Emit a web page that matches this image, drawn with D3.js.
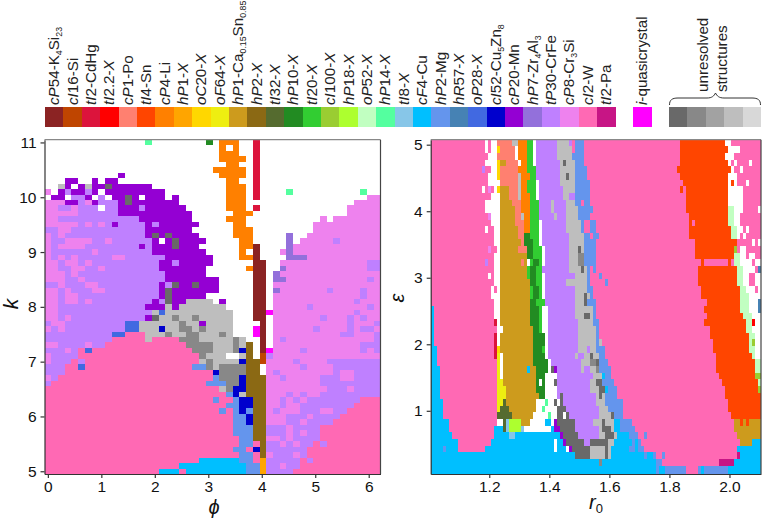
<!DOCTYPE html>
<html>
<head>
<meta charset="utf-8">
<script src="https://cdn.jsdelivr.net/npm/d3@7"></script>
<style>
	html, body { margin:0; padding:0; background:#fff; }
	svg { display:block; }
	text { font-family:"Liberation Sans", Helvetica, Arial, sans-serif; fill:#111; }
	.axis text { font-size:15.5px; }
	.axis path, .axis line { stroke:#333; stroke-width:1.2; }
	.legend-label { font-size:15.2px; fill:#222; }
	.axis-title { font-style:italic; font-size:21px; }
</style>
</head>
<body>
<svg width="762" height="518"></svg>
<script>
(function() {

	// VARS
	// *italic*, _subscript_
	var structureLabels = ['*cP*54-K_4_Si_23_','*cI*16-Si','*tI*2-CdHg','*tI*2.2-*X*','*cP*1-Po','*tI*4-Sn','*cP*4-Li','*hP*1-*X*','*oC*20-*X*','*oF*64-*X*','*hP*1-Ca_0.15_Sn_0.85_','*hP*2-*X*','*tI*32-*X*','*hP*10-*X*','*tI*20-*X*','*cI*100-*X*','*hP*18-*X*','*oP*52-*X*','*hP*14-*X*','*tI*8-*X*','*cF*4-Cu','*hP*2-Mg','*hR*57-*X*','*oP*28-*X*','*cI*52-Cu_5_Zn_8_','*cP*20-Mn','*hP*7-Zr_4_Al_3_','*tP*30-CrFe','*cP*8-Cr_3_Si','*cI*2-W','*tI*2-Pa']
	var structureCodes = 'abcdefghijklmnopqrstuvwxyzABCDE'.split('')
	var structureColors = ['#8B2323','#BF4500','#DC143C','#FF0000','#FF8070','#FF4500','#FF8000','#FFA500','#FFD700','#EEEE11','#CD9B1D','#8B6914','#556B2F','#228B22','#32CD32','#9ACD32','#ADFF2F','#C1FFC1','#54FF9F','#87C6E8','#00BFFF','#6495ED','#4682B4','#4169E1','#0000CD','#9400D3','#9370DB','#BF80FF','#EE82EE','#FF69B4','#C71585']
	var quasiLabel = '*i*-quasicrystal'
	var quasiCode = 'F'
	var quasiColor = '#FF00FF'
	var unresolvedCodes = ['G','H','J','I','K']
	var unresolvedColors = ['#696969','#888888','#A2A2A2','#BEBEBE','#D8D8D8']

	var kTicks = [5,6,7,8,9,10,11]
	var phiTicks = [0,1,2,3,4,5,6]
	var epsTicks = [1,2,3,4,5]
	var r0Ticks = [1.2,1.4,1.6,1.8,2.0]

	// k = 11.0 down to 5.0, "code startColumn" runs, phi column = i * 2pi / 50
	var kPhiRows = [
		'.0 s15 .16 n24 .25 g26 .29 c31 .32',
		'.0 g26 .27 g28 .29 c31 .32',
		'.0 g26 .29 c31 .32',
		'.0 g26 .30 c31 .32',
		'.0 g27 .29 c31 .32',
		'.0 g25 .30 c31 .32',
		'.0 z11 .12 g26 .30 c31 .32',
		'.0 z3 .5 z7 .8 z9 .11 g27 .29 c31 .32',
		'.0 I2 z3 .4 z5 I6 z7 G9 z10 .16 g27 .30 c31 .32',
		'C0 .1 z2 B3 z4 B6 z7 .8 z9 .18 g27 .30 c31 .32 s36 .37 s47 .48',
		'.0 z1 .3 B4 z6 .7 B8 .9 z10 G12 z13 .14 z15 .18 z19 .20 g27 .30 c31 .32 C48',
		'C0 z3 B5 C6 z7 B8 z11 G12 z13 .20 g27 .30 C46',
		'C0 B2 C4 B5 .8 B9 z11 B14 z15 .21 g27 .30 c31 .32 C45',
		'C0 B5 z11 .22 g28 .31 C45',
		'C0 B2 z14 .22 g27 .30 C41 .42 C43',
		'C0 B5 C6 B7 C8 B9 z10 B11 z15 B16 z17 .23 g28 .30 C40',
		'B0 C2 B4 z15 .22 g28 .31 C40',
		'C0 B1 C2 B3 z15 G16 z17 G18 z19 .23 g28 .31 A36 .37 C39',
		'C0 B1 C3 B7 C9 B10 z16 .17 z18 G19 z20 .24 g29 .31 A36 .37 C38 B43 C44',
		'C0 B1 C2 B6 z14 B15 z16 G19 z20 .23 g29 a31 .32 A36 C37',
		'C0 B1 C7 B8 z16 .24 g29 .30 a31 .32 C35 A36 C37',
		'C0 B1 C2 B3 C4 B5 C10 B12 z18 .25 g29 a31 .32 A36 C39',
		'C0 B2 C3 B5 C6 B7 z17 B19 z20 .25 a31 .33 C35 B48',
		'C0 B2 C4 B6 C8 B9 z17 .24 g30 a31 .33 A35 C36 B48',
		'C0 B3 C4 B5 z18 .24 a31 .33 A34 C35',
		'C0 B3 C5 B6 z18 .26 a31 .33 A34 C36 B48 C49',
		'B0 C2 B3 C6 B8 z17 B18 G19 z20 G22 z23 .26 a31 .33 C34',
		'C0 B2 C3 B4 C7 B9 z17 G18 z19 .26 a31 .33 A34 C35 B42 C43 B47 C48',
		'C0 B2 C3 B5 z17 G18 z19 .24 a31 .33 C34 B47 C48',
		'C0 B2 C3 B5 C6 B7 z16 B17 G18 z19 I21 .25 z26 .27 a31 .33 C34 B46 C47',
		'C0 B2 z15 I18 z19 I20 .27 a31 .33 C34 B39 C40 B48 C49',
		'C0 B2 I16 x17 I18 .28 a31 F33 C34 B46 C47',
		'C0 B2 C3 B4 z15 G16 I17 H19 I20 H22 I23 .28 a31 .33 C34 B41 C42 B45 C46 B47 C48',
		'B0 C1 B3 x12 I14 H20 I21 z23 I24 .28 a32 .33 C34 B45 C46 B49',
		'C0 B1 C2 B3 x12 I14 y17 I18 H20 I22 H23 I24 .28 F31 a32 .33 C34 B40 C41 B45 C46 B47 C49',
		'B0 x10 D12 I15 H18 I19 H21 I23 H26 I27 .28 F31 a32 .33 C34 B44 C46 B49',
		'B0 D10 I15 D16 H20 I23 H28 I29 .30 a32 .33 C34 B35 C36 B49',
		'C0 B2 C6 B7 D9 H21 I25 H28 I29 l30 .31 a32 .33 C34 B47',
		'B0 C3 B4 D5 x6 D7 H22 I25 H28 y29 l30 .31 a32 F33 C34 B38 C39 B47 C48 B49',
		'C0 B1 D5 H23 I24 .27 I29 l30 .31 b32 B33 C34',
		'C0 B1 D4 B5 D6 I23 H24 I25 y29 l30 b32 C33 B37 C38 B42',
		'B0 D3 x5 D6 v22 H24 I25 H26 l30 .32 C33 B38 C39 B43',
		'B0 D3 y25 H26 l30 .32 C33 B34 C35 B43 C44 B46',
		'C0 B1 D2 v25 H26 y29 l30 C33 B35 C36 B41 C44 B46',
		'B0 D1 v24 H27 y29 l30 C33 B41',
		'D0 I26 H27 y28 l30 C33 B42 C45 B46',
		'D0 v27 y28 I29 l30 C33 B36 C37 B38 C39 B41',
		'D0 v25 D26 v28 y29 l31 C33 B35 C36 B37 C38 B39 D47',
		'D0 v27 y29 l31 C33 B35 C36 B38 D46',
		'D0 v26 D27 v28 y29 v30 l31 C33 B34 C35 B38 C41 B43 D45',
		'D0 v28 y30 l31 C33 B36 C39 B40 D44',
		'D0 v28 y30 l31 C33 B36 C38 B39 D43',
		'D0 v28 l31 B33 C36 B37 D41',
		'D0 v28 l31 B33 C36 B37 C38 B39 D41',
		'D0 v29 l31 C33 B35 C36 B37 D41',
		'D0 v29 D31 l32 B33 C35 B36 C37 B38 D40 B41 D42',
		'D0 v28 D30 y31 l32 B33 D39',
		'D0 v29 D31 l32 C33 B34 C37 B38 D39',
		'D0 u23 v29 D31 h32 B33 D38 B39 D40',
		'D0 u20 v30 h32 B33 C35 B36 D38',
		'D0 u17 D20 u21 v30 h32 B33 D37'
	]

	// epsilon = 5.025 downward in steps of 0.1, r0 column = 1.01 + i * 0.01
	var epsR0Rows = [
		'D0 .18 D19 .20 e22 I27 g29 o32 .34 B35 I42 B46 D47 v48 D51 f83 .98 D100',
		'D0 .18 D19 .20 i22 e23 .28 g29 o32 .34 B35 I42 D47 v48 D51 f83 .99 D103',
		'D0 .19 e22 .28 g29 o32 .34 B35 I42 v47 D51 f83 .98 D101',
		'D0 .18 i22 k23 e25 .29 g30 o32 .34 B35 I43 G44 I45 v48 D51 f83 .99 D100 .101 D102 .106 D107',
		'D0 B17 D18 .20 i22 e23 g29 o32 B35 I43 v48 D52 f82 .100 D101 .103 D104',
		'D0 .19 i22 e23 I29 g30 o33 B35 I43 G45 I46 v48 D52 f83 .99 D102',
		'D0 .19 e23 I29 g30 o32 .35 B36 I43 v48 D53 f84 .99 f100 .101 D102 .105 D106',
		'D0 .17 D18 C19 D20 .21 i22 k23 e26 I29 g30 o32 .35 B36 I44 v48 D53 f83 D84 f85 .99 D104',
		'D0 .20 k23 e26 I29 g30 o33 .35 B36 I44 B46 v48 D53 f85 .99 D104',
		'D0 .18 k23 e27 g30 o33 B36 I40 B41 I45 v48 D50 v51 D53 f85 .99 D104',
		'D0 .18 k23 e28 g30 o33 B36 I40 B41 I45 v49 D53 v53 D54 f85 r99 .101 D104 .109',
		'D0 C19 .20 k23 e28 I30 g31 o33 B36 I41 B42 I45 v49 D53 f86 r99 .101 D103',
		'D0 .20 k23 e28 g31 o33 .36 B37 I45 v50 D51 v53 D55 f86 D87 f88 r99 .101 D103',
		'D0 .18 D19 .21 k23 e29 g31 o33 .36 B37 I45 v50 D51 v53 D55 f86 r100 .102 D104 .105 D106',
		'D0 .21 k23 e29 n31 o33 .36 B37 I46 v51 D53 v54 D56 f86 r100 .102 D103 .104 D105',
		'D0 .21 k23 e30 n31 o34 .36 B37 I46 v51 v53 D55 f88 D102 .107 D108 .109',
		'D0 C19 D20 .22 k23 e29 n32 o34 .37 B38 I46 G49 I50 v51 D55 f88 p101 D102 .103 D105',
		'D0 .21 k23 n32 o34 .37 B38 I46 H49 v51 D55 f88 r101 .103 D105 .106 D108',
		'D0 B18 D19 .21 k23 e30 k31 .32 o33 n34 o36 .37 B38 I46 H49 v51 D55 f90 D91 f99 D100 r101 .103 D107 .108',
		'D0 .21 k23 o32 n33 o35 B37 I46 G50 I51 v52 D53 v54 D55 f89 r102 .104 D108 w109',
		'D0 .19 D20 .21 k23 o32 n33 o35 .37 B38 I48 v52 D53 v56 D57 f89 r102 .104 D106 .108',
		'D0 .21 k23 n33 o35 .37 B38 I45 v52 D53 v58 D59 f89 r102 .104 D106 .108',
		'D0 .20 D21 .22 k23 o33 n34 o36 .37 B38 I48 v52 v53 D54 f90 r103 .105 D108 .109',
		'D0 .20 k23 o33 n34 o36 .37 B38 I48 G51 I52 v53 D54 f90 r103 .106',
		'D0 .21 k23 n33 o35 B38 I48 G51 v52 D55 f92 r103 .106 w109 .110',
		'u0 D1 .21 k23 n33 o36 .37 B39 I48 v54 D55 f91 r103 .106 w109 .110',
		'u0 D1 .21 k23 n33 o36 .37 B39 I48 G51 I53 v54 D55 f92 r104 .107',
		'u0 D1 c21 .22 k23 n33 o36 .37 B39 I49 v54 D56 f91 r105 .107 d107 .108',
		'u0 D1 .22 k24 n34 o36 .37 B39 I49 v55 D56 f93 r105 .107',
		'u0 D1 c21 .22 k23 n34 .38 B39 I49 v55 D56 f93 r106 .108',
		'u0 D1 c21 .22 k23 n34 .38 B39 I49 v55 I56 D57 f94 r106 p107 .108',
		'u0 D2 c21 i22 k23 n34 o37 .38 B39 I49 B52 I53 v55 D58 f94 r106 .108',
		'u0 D2 c21 j22 .23 k24 n34 .38 B39 I48 B49 I51 G53 I54 v56 D58 f95 r107 .108',
		'u0 D2 j22 .23 k24 n34 .39 B40 I50 H53 G55 v56 D59 f95 r108',
		'u0 D3 j22 .23 k24 u32 k33 n35 .39 G40 z41 B42 I50 B51 I53 H55 v56 D60 f95 r108',
		'u0 D3 j22 .23 k24 n35 .38 B42 I54 u57 v58 D60 f96 p108',
		'u0 D3 j22 k24 n35 .36 n37 .38 G41 B42 I53 G55 v57 D61 f97 r109',
		'u0 D3 j22 k25 n35 .38 B42 I53 G56 u58 v59 D62 f98 p109',
		'u0 D3 j22 k25 n36 .38 B42 G43 B44 I55 G56 I57 v58 D62 f98',
		'u0 D4 j22 m24 k25 .35 s38 .39 G41 .42 G43 B44 I55 v58 D64 f99',
		'u0 D4 j22 m23 k26 .35 s37 .38 G42 B45 I56 v59 D64 f99',
		'u0 D4 m22 k27 .34 s39 .40 G42 .44 G45 B46 I56 G60 v61 D64 f100',
		'u0 D6 .22 m24 t25 q26 k30 .33 u38 .40 z41 G42 B48 I54 G57 I58 u61 v63 D67 k101 f103 k104 f105 k106',
		'u0 D6 u21 m24 t25 q26 t30 .31 u40 z41 G43 B48 I56 G57 I60 u61 v63 D68 k101',
		'u0 D7 u21 t26 u28 z43 G44 B49 I56 G58 I61 u62 v66 D69 v71 D72 k102',
		'u0 D9 u20 .41 u42 z44 G45 B51 G53 I59 u61 v67 u68 v69 D70 k103 u107',
		'u0 v4 u5 D9 u18 .41 u42 .45 z46 G47 I53 G58 I59 u60 v66 u68 v69 D71 u102',
		'u0 G48 I53 G58 I59 u60 v71 u72 v74 D75 v77 D78 E102 u103',
		'u0 H56 u57 v75 D77 E96 u101',
		'u0 v75 u76 v78 D85 v89 u90 v91 u99',
		'u0 v75 u76 v78 D85 v89 u90 v91 u99'
	]

	var phiCols = 50
	var phiStep = 2 * Math.PI / phiCols
	var kStep = 0.1
	var r0Cols = 110
	var r0Step = 0.01
	var epsStep = 0.1

	var svg = d3.select('svg')

	var colorByCode = {}
	structureCodes.forEach(function(c, i) { colorByCode[c] = structureColors[i] })
	colorByCode[quasiCode] = quasiColor
	unresolvedCodes.forEach(function(c, i) { colorByCode[c] = unresolvedColors[i] })

	// PANELS
	var left = { x0:44.5, x1:380.5, y0:474, y1:139.7 }
	var right = { x0:430.7, x1:761, y0:474, y1:139.7 }

	var scales = {
		phi: d3.scaleLinear().domain([-phiStep / 2, (phiCols - 0.5) * phiStep]).range([left.x0, left.x1]),
		k: d3.scaleLinear().domain([4.95, 11.05]).range([left.y0, left.y1]),
		r0: d3.scaleLinear().domain([1.005, 2.105]).range([right.x0, right.x1]),
		eps: d3.scaleLinear().domain([0.05, 5.075]).range([right.y0, right.y1])
	}

	function parseRow(str, cols) {
		var tokens = str.split(' ')
		return tokens.map(function(t, i) {
			return {
				code: t.charAt(0),
				start: +t.slice(1),
				end: i < tokens.length - 1 ? +tokens[i + 1].slice(1) : cols
			}
		}).filter(function(d) { return d.code !== '.' })
	}

	function drawGrid(name, rows, cols, px, py) {
		var clipId = 'clip-' + name
		var range = [px(0), px(cols)]
		svg.append('clipPath').attr('id', clipId)
			.append('rect')
			.attr('x', range[0]).attr('y', py(0))
			.attr('width', range[1] - range[0])
			.attr('height', scales[name === 'left' ? 'k' : 'eps'].range()[0] - py(0))

		var g = svg.append('g')
			.attr('class', 'grid')
			.attr('clip-path', 'url(#' + clipId + ')')
			.attr('shape-rendering', 'crispEdges')

		rows.forEach(function(row, r) {
			g.selectAll('.row' + r)
				.data(parseRow(row, cols))
				.enter().append('rect')
				.attr('class', 'row' + r)
				.attr('x', function(d) { return px(d.start) })
				.attr('width', function(d) { return px(d.end) - px(d.start) })
				.attr('y', py(r))
				.attr('height', py(r + 1) - py(r))
				.attr('fill', function(d) { return colorByCode[d.code] })
		})
	}

	drawGrid('left', kPhiRows, phiCols,
		function(c) { return scales.phi((c - 0.5) * phiStep) },
		function(r) { return scales.k(11 + kStep / 2 - r * kStep) })

	drawGrid('right', epsR0Rows, r0Cols,
		function(c) { return scales.r0(1.005 + c * r0Step) },
		function(r) { return scales.eps(5.075 - r * epsStep) })

	// AXES
	function drawAxes(panel, xScale, yScale, xTicks, yTicks, xFormat) {
		svg.append('g')
			.attr('class', 'axis')
			.attr('transform', 'translate(0,' + panel.y0 + ')')
			.call(d3.axisBottom(xScale).tickValues(xTicks).tickSize(4).tickSizeOuter(0).tickPadding(3).tickFormat(xFormat))

		svg.append('g')
			.attr('class', 'axis')
			.attr('transform', 'translate(' + panel.x0 + ',0)')
			.call(d3.axisLeft(yScale).tickValues(yTicks).tickSize(4).tickSizeOuter(0).tickPadding(4).tickFormat(d3.format('d')))

		svg.append('line')
			.attr('x1', panel.x0).attr('x2', panel.x1)
			.attr('y1', panel.y1).attr('y2', panel.y1)
			.attr('stroke', '#888').attr('stroke-width', 1.2)

		svg.append('line')
			.attr('x1', panel.x1).attr('x2', panel.x1)
			.attr('y1', panel.y1).attr('y2', panel.y0)
			.attr('stroke', '#444').attr('stroke-width', 1.2)
	}

	drawAxes(left, scales.phi, scales.k, phiTicks, kTicks, d3.format('d'))
	drawAxes(right, scales.r0, scales.eps, r0Ticks, epsTicks, d3.format('.1f'))

	// AXIS TITLES
	svg.append('text').attr('class', 'axis-title')
		.attr('text-anchor', 'middle')
		.attr('transform', 'translate(18,304)rotate(-90)')
		.text('k')

	svg.append('text').attr('class', 'axis-title')
		.attr('text-anchor', 'middle')
		.attr('x', 214).attr('y', 514)
		.style('font-size', '20px')
		.text('\u03d5')

	svg.append('text').attr('class', 'axis-title')
		.attr('text-anchor', 'middle')
		.attr('transform', 'translate(404,298)rotate(-90)')
		.style('font-size', '20px')
		.text('\u03b5')

	var r0Title = svg.append('text').attr('class', 'axis-title')
		.attr('x', 589).attr('y', 509)
		.style('font-size', '20px')
	r0Title.append('tspan').text('r')
	r0Title.append('tspan').attr('dy', 4).style('font-size', '13px').style('font-style', 'normal').text('0')

	// LEGEND
	function addRichLabel(sel, label) {
		// splits "*ab*12_3_" into plain, italic and subscript pieces
		var parts = label.split(/(\*[^*]+\*|_[^_]+_)/).filter(function(p) { return p.length })
		var shift = 0
		parts.forEach(function(p) {
			var span = sel.append('tspan')
			var sub = p.charAt(0) === '_'
			var ital = p.charAt(0) === '*'
			span.text(sub || ital ? p.slice(1, -1) : p)
			if (ital) span.style('font-style', 'italic')
			if (sub) span.style('font-size', '8.8px')
			span.attr('dy', (sub ? 3 : 0) - shift)
			shift = sub ? 3 : 0
		})
	}

	var swatchW = 18.4
	var legendTop = 107
	var legendBottom = 126.5
	var legendX = d3.scaleLinear().domain([0, 31]).range([45, 45 + 31 * swatchW])

	var legend = svg.append('g').attr('class', 'legend').attr('shape-rendering', 'crispEdges')

	legend.selectAll('.swatch')
		.data(structureCodes)
		.enter().append('rect')
		.attr('class', 'swatch')
		.attr('x', function(d, i) { return legendX(i) })
		.attr('y', legendTop)
		.attr('width', swatchW + 0.4)
		.attr('height', legendBottom - legendTop)
		.attr('fill', function(d) { return colorByCode[d] })

	var labelsG = svg.append('g')

	structureLabels.forEach(function(label, i) {
		var t = labelsG.append('text')
			.attr('class', 'legend-label')
			.attr('transform', 'translate(' + (legendX(i) + swatchW / 2 + 5) + ',' + (legendTop - 2) + ')rotate(-90)')
		addRichLabel(t, label)
	})

	legend.append('rect')
		.attr('x', 633).attr('y', legendTop)
		.attr('width', 18.6).attr('height', legendBottom - legendTop)
		.attr('fill', quasiColor)

	addRichLabel(labelsG.append('text')
		.attr('class', 'legend-label')
		.attr('transform', 'translate(647,' + (legendTop - 2) + ')rotate(-90)'), quasiLabel)

	legend.selectAll('.swatch-gray')
		.data(unresolvedCodes)
		.enter().append('rect')
		.attr('class', 'swatch-gray')
		.attr('x', function(d, i) { return 669 + i * swatchW })
		.attr('y', legendTop)
		.attr('width', swatchW + 0.4)
		.attr('height', legendBottom - legendTop)
		.attr('fill', function(d) { return colorByCode[d] })

	// brace over the gray swatches
	svg.append('path')
		.attr('d', 'M669.5,105 C669.5,100 672,98 678,98 L707,98 C712,98 714,96 715.5,93 C717,96 719,98 724,98 L752,98 C758,98 760.5,100 760.5,105')
		.attr('fill', 'none')
		.attr('stroke', '#333')
		.attr('stroke-width', 1)

	labelsG.append('text').attr('class', 'legend-label')
		.attr('transform', 'translate(708,92)rotate(-90)')
		.text('unresolved')
	labelsG.append('text').attr('class', 'legend-label')
		.attr('transform', 'translate(727,92)rotate(-90)')
		.text('structures')

})()
</script>
</body>
</html>
